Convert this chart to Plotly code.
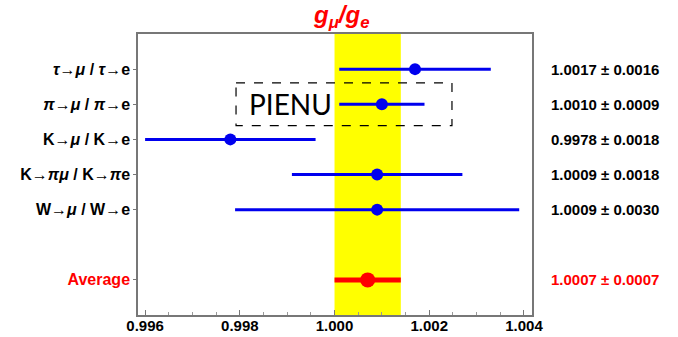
import plotly.graph_objects as go

# Ratio measurements of muon/electron coupling
labels = ["<i>τ</i>→<i>μ</i> / <i>τ</i>→e", "<i>π</i>→<i>μ</i> / <i>π</i>→e", "K→<i>μ</i> / K→e",
          "K→<i>πμ</i> / K→<i>π</i>e", "W→<i>μ</i> / W→e"]
values = [1.0017, 1.0010, 0.9978, 1.0009, 1.0009]
errors = [0.0016, 0.0009, 0.0018, 0.0018, 0.0030]
rows = [1, 2, 3, 4, 5]

avg_label = "Average"
avg_value = 1.0007
avg_error = 0.0007
avg_row = 7

xticks = [0.996, 0.998, 1.000, 1.002, 1.004]

fig = go.Figure()

# averaged band
fig.add_shape(type="rect", xref="x", yref="paper",
              x0=avg_value - avg_error, x1=avg_value + avg_error, y0=0, y1=1,
              fillcolor="#FFFF00", line_width=0, layer="below")

fig.add_trace(go.Scatter(
    x=values, y=rows, mode="markers",
    marker=dict(color="#0000EE", size=12),
    error_x=dict(type="data", array=errors, color="#0000EE", thickness=3, width=0),
    showlegend=False))

fig.add_trace(go.Scatter(
    x=[avg_value], y=[avg_row], mode="markers",
    marker=dict(color="#FF0000", size=15),
    error_x=dict(type="data", array=[avg_error], color="#FF0000", thickness=5, width=0),
    showlegend=False))

# dashed box around PIENU result
fig.add_shape(type="rect", xref="x", yref="y", x0=0.99792, x1=1.00248, y0=1.39, y1=2.61,
              line=dict(color="black", width=1.2, dash="dash"), layer="above")
fig.add_annotation(x=0.99908, y=2, xref="x", yref="y", text="PIENU", showarrow=False,
                   font=dict(family="Lato", size=28, color="black"))

# value labels on the right
for v, e, r in zip(values, errors, rows):
    fig.add_annotation(x=1.043, xref="paper", y=r, yref="y", xanchor="left",
                       text=f"<b>{v:.4f} ± {e:.4f}</b>", showarrow=False,
                       font=dict(family="Liberation Sans", size=15, color="black"))
fig.add_annotation(x=1.043, xref="paper", y=avg_row, yref="y", xanchor="left",
                   text=f"<b>{avg_value:.4f} ± {avg_error:.4f}</b>", showarrow=False,
                   font=dict(family="Liberation Sans", size=15, color="#FF0000"))

# title
fig.add_annotation(x=0.515, xref="paper", y=1.0, yref="paper", yanchor="bottom",
                   text="<b><i>g<sub>μ</sub>/g<sub>e</sub></i></b>", showarrow=False,
                   font=dict(family="Liberation Sans", size=24, color="#FF0000"))

ticktext = [f"<b>{l}</b>" for l in labels] + [f"<b><span style='color:#FF0000'>{avg_label}</span></b>"]

fig.update_layout(
    width=678, height=337,
    margin=dict(l=138, r=146, t=34, b=22),
    paper_bgcolor="white", plot_bgcolor="white",
    font=dict(family="Liberation Sans", size=16, color="black"),
    xaxis=dict(range=[0.99585, 1.00417], tickvals=xticks,
               ticktext=[f"<b>{t:.3f}</b>" for t in xticks],
               tickfont=dict(size=15), automargin=False, ticklabelstandoff=-4,
               ticks="inside", ticklen=5, tickcolor="#777",
               minor=dict(dtick=0.0005, ticks="inside", ticklen=3, tickcolor="#999"),
               showline=True, linecolor="#777", linewidth=1.5, mirror=True,
               showgrid=False, zeroline=False),
    yaxis=dict(range=[8, 0], tickvals=rows + [avg_row], ticktext=ticktext,
               tickfont=dict(size=16), automargin=False,
               ticks="outside", ticklen=3, tickcolor="#777",
               showline=True, linecolor="#777", linewidth=1.5, mirror=True,
               showgrid=False, zeroline=False),
)

fig.write_html("out.html")
